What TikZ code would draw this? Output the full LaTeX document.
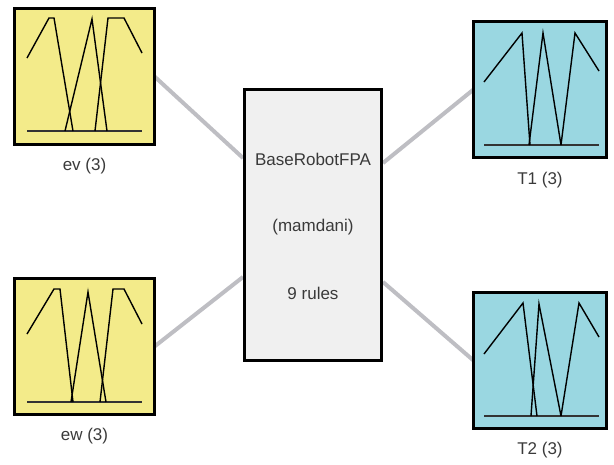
\documentclass[tikz,border=0pt]{standalone}
\usepackage{fontspec}
\setmainfont{Liberation Sans}
\usetikzlibrary{backgrounds}
\definecolor{inyellow}{HTML}{F3EB8A}
\definecolor{outcyan}{HTML}{9AD7E1}
\definecolor{fisgray}{HTML}{F0F0F0}
\definecolor{linkgray}{HTML}{BEBEC3}
\definecolor{txtgray}{HTML}{3A3A3A}
\tikzset{
  varbox/.style={draw=black, line width=3pt, inner sep=0pt, outer sep=0pt},
  inbox/.style={varbox, fill=inyellow, minimum width=140pt, minimum height=136pt},
  outbox/.style={varbox, fill=outcyan, minimum width=133pt, minimum height=136pt},
  fisbox/.style={varbox, fill=fisgray, minimum width=137pt, minimum height=271pt},
  lbl/.style={text=txtgray, font=\fontsize{17}{19}\selectfont, inner sep=0pt},
  link/.style={draw=linkgray, line width=4pt},
  mf/.style={draw=black, line width=1.4pt, line join=miter},
  base/.style={draw=black!80, line width=1.8pt}
}
\begin{document}
\begin{tikzpicture}[x=1pt,y=-1pt]
\useasboundingbox (0,0) rectangle (614,464);
% boxes
\node[inbox]  (ev)  at (84.5,76.5) {};
\node[inbox]  (ew)  at (84.5,346.5) {};
\node[outbox] (t1)  at (540,89.5) {};
\node[outbox] (t2)  at (540,360.5) {};
\node[fisbox] (fis) at (313,225) {};
% connector ends on the FIS box
\coordinate (fa) at (243,158);
\coordinate (fb) at (243,277);
\coordinate (fc) at (383,163);
\coordinate (fd) at (383,282);
\begin{pgfonlayer}{background}
\draw[link] (ev.east) -- (fa);
\draw[link] (ew.east) -- (fb);
\draw[link] (fc) -- (t1.west);
\draw[link] (fd) -- (t2.west);
\end{pgfonlayer}
% labels
\node[lbl] (evl) at (84.5,166) {ev (3)};
\node[lbl] (ewl) at (84.5,436) {ew (3)};
\node[lbl] (t1l) at (540,180) {T1 (3)};
\node[lbl] (t2l) at (540,450) {T2 (3)};
\node[lbl] (f1) at (313,159) {BaseRobotFPA};
\node[lbl] (f2) at (313,227) {(mamdani)};
\node[lbl] (f3) at (313,293) {9 rules};
% ev MFs
\draw[base] (27,131) -- (142,131);
\draw[mf] (27,58) -- (49,18) -- (54,18) -- (73,131);
\draw[mf] (65,131) -- (92,19) -- (107,131);
\draw[mf] (95,131) -- (108,18) -- (124,18) -- (142,53);
% ew MFs
\draw[base] (27,402) -- (142,402);
\draw[mf] (27,334) -- (54,289) -- (60,289) -- (73,402);
\draw[mf] (71,402) -- (88,292) -- (106,402);
\draw[mf] (100,402) -- (113,289) -- (124,289) -- (142,324);
% T1 MFs
\draw[base] (484,145) -- (599,145);
\draw[mf] (484,82) -- (522,33) -- (530,145);
\draw[mf] (529,145) -- (543,33) -- (561,145);
\draw[mf] (561,145) -- (575,33) -- (599,71);
% T2 MFs
\draw[base] (484,416) -- (599,416);
\draw[mf] (484,354) -- (523,303) -- (537,416);
\draw[mf] (531,416) -- (539,304) -- (561,416);
\draw[mf] (561,416) -- (579,303) -- (599,337);
\end{tikzpicture}
\end{document}
